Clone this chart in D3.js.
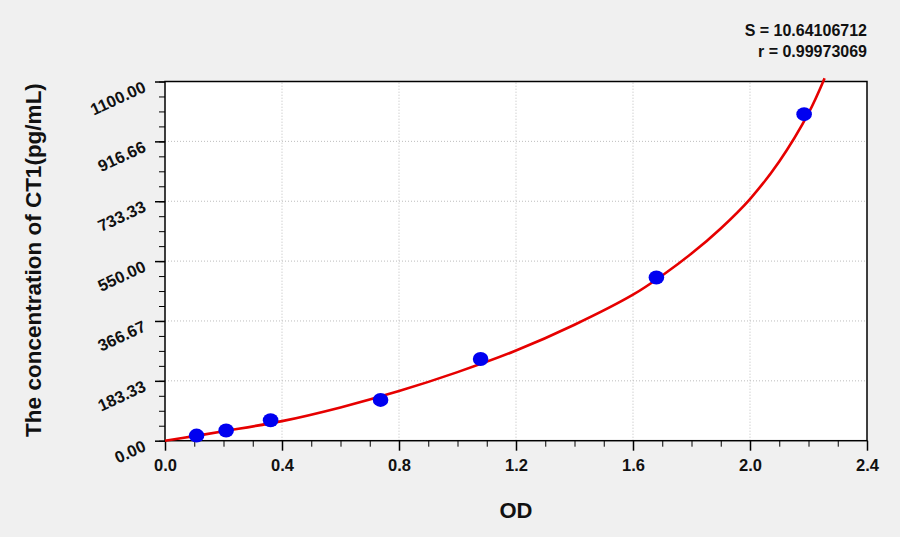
<!DOCTYPE html>
<html>
<head>
<meta charset="utf-8">
<script src="https://cdn.jsdelivr.net/npm/d3@7"></script>
<style>
	body { margin: 0; background: #f0f0f0; }
	svg { display: block; font-family: "Liberation Sans", Arial, sans-serif; }
</style>
</head>
<body>
<svg class="viz" width="900" height="537"></svg>
<script>
// *** Values ***
let standardOD = [0.108, 0.209, 0.361, 0.737, 1.079, 1.680, 2.185];
let standardConc = [15.6, 31.25, 62.5, 125, 250, 500, 1000];

// fitted curve
let curveOD = [0.0, 0.1, 0.2, 0.4, 0.6, 0.8, 1.0, 1.2, 1.4, 1.6, 1.7, 1.8, 1.9, 2.0, 2.1, 2.2, 2.255];
let curveConc = [0, 14, 29, 60, 102, 152, 210, 276, 355, 447, 506, 573, 650, 740, 855, 1003, 1110];

let xTicks = [0.0, 0.4, 0.8, 1.2, 1.6, 2.0, 2.4];
let xTickLabels = ["0.0", "0.4", "0.8", "1.2", "1.6", "2.0", "2.4"];
let yTicks = [0, 183.33, 366.67, 550, 733.33, 916.66, 1100];
let yTickLabels = ["0.00", "183.33", "366.67", "550.00", "733.33", "916.66", "1100.00"];

let statLines = ["S = 10.64106712", "r = 0.99973069"];

function render() {
	let grph = d3.select(".viz");
	const wdth = 900, hght = 537;
	const mLeft = 165, mTop = 81.5, mRight = 33, mBttm = 96.3;

	let x = d3.scaleLinear().domain([0, 2.4]).range([mLeft, wdth - mRight]);
	let y = d3.scaleLinear().domain([0, 1100]).range([hght - mBttm, mTop]);

	// minor ticks: four steps between labelled ticks
	let xMinor = d3.range(0, 2.4001, 0.1);
	let yMinor = d3.range(0, 1100.01, 1100 / 24);

	// plot area
	grph.append("rect")
		.attr("x", x(0)).attr("y", y(1100))
		.attr("width", x(2.4) - x(0)).attr("height", y(0) - y(1100))
		.attr("fill", "white");

	// grid
	let grid = grph.append("g").attr("class", "grid")
		.attr("stroke", "#bdbdbd").attr("stroke-width", 1)
		.attr("stroke-dasharray", "1,2");
	grid.selectAll(".gx").data(xTicks.slice(1, -1)).join("line")
		.attr("x1", (d) => x(d)).attr("x2", (d) => x(d))
		.attr("y1", y(0)).attr("y2", y(1100));
	grid.selectAll(".gy").data(yTicks.slice(1, -1)).join("line")
		.attr("y1", (d) => y(d)).attr("y2", (d) => y(d))
		.attr("x1", x(0)).attr("x2", x(2.4));

	// frame
	grph.append("rect")
		.attr("x", x(0)).attr("y", y(1100))
		.attr("width", x(2.4) - x(0)).attr("height", y(0) - y(1100))
		.attr("fill", "none").attr("stroke", "black").attr("stroke-width", 1.5);

	// minor ticks
	grph.append("g").attr("transform", "translate(0," + y(0) + ")")
		.call(d3.axisBottom(x).tickValues(xMinor).tickSize(6).tickFormat(""))
		.call((g) => g.select(".domain").remove());
	grph.append("g").attr("transform", "translate(" + x(0) + ",0)")
		.call(d3.axisLeft(y).tickValues(yMinor).tickSize(6).tickFormat(""))
		.call((g) => g.select(".domain").remove());

	// major ticks + labels
	let ax = grph.append("g").attr("class", "axisx")
		.attr("transform", "translate(0," + y(0) + ")")
		.call(d3.axisBottom(x).tickValues(xTicks).tickSize(10)
			.tickFormat((d, i) => xTickLabels[i]));
	ax.select(".domain").remove();
	ax.selectAll("line").attr("stroke-width", 1.5);
	ax.selectAll("text")
		.attr("y", 30).attr("dy", 0)
		.attr("fill", "#111")
		.style("font-size", "16.5px").style("font-weight", "bold");

	let ay = grph.append("g").attr("class", "axisy")
		.attr("transform", "translate(" + x(0) + ",0)")
		.call(d3.axisLeft(y).tickValues(yTicks).tickSize(10)
			.tickFormat((d, i) => yTickLabels[i]));
	ay.select(".domain").remove();
	ay.selectAll("line").attr("stroke-width", 1.5);
	ay.selectAll("text")
		.attr("x", 0).attr("dy", 0)
		.attr("transform", "translate(-18, 9) rotate(-25)")
		.style("text-anchor", "end")
		.attr("fill", "#111")
		.style("font-size", "16.5px").style("font-weight", "bold");

	// fitted curve
	let curve = curveOD.map((d, i) => ({ od: d, conc: curveConc[i] }));
	let line = d3.line()
		.x((d) => x(d.od))
		.y((d) => y(d.conc))
		.curve(d3.curveCatmullRom.alpha(0.5));
	grph.append("path")
		.attr("d", line(curve))
		.attr("fill", "none")
		.attr("stroke", "#e60000")
		.attr("stroke-width", 2.6);

	// standards
	let pts = standardOD.map((d, i) => ({ od: d, conc: standardConc[i] }));
	grph.selectAll(".pt").data(pts).join("ellipse")
		.attr("class", "pt")
		.attr("cx", (d) => x(d.od))
		.attr("cy", (d) => y(d.conc))
		.attr("rx", 7.8).attr("ry", 7)
		.attr("fill", "#0000f0");

	// axis titles
	grph.append("text")
		.attr("x", 516).attr("y", 518)
		.attr("text-anchor", "middle")
		.style("font-size", "22px").style("font-weight", "bold")
		.attr("fill", "#111")
		.text("OD");
	grph.append("text")
		.attr("transform", "translate(41, 260) rotate(-90)")
		.attr("text-anchor", "middle")
		.style("font-size", "22.5px").style("font-weight", "bold")
		.attr("fill", "#111")
		.text("The concentration of CT1(pg/mL)");

	// fit statistics
	grph.selectAll(".stat").data(statLines).join("text")
		.attr("class", "stat")
		.attr("x", 867).attr("y", (d, i) => 36 + i * 21)
		.attr("text-anchor", "end")
		.style("font-size", "16px").style("font-weight", "bold")
		.attr("fill", "#111")
		.text((d) => d);
}

render();
</script>
</body>
</html>
